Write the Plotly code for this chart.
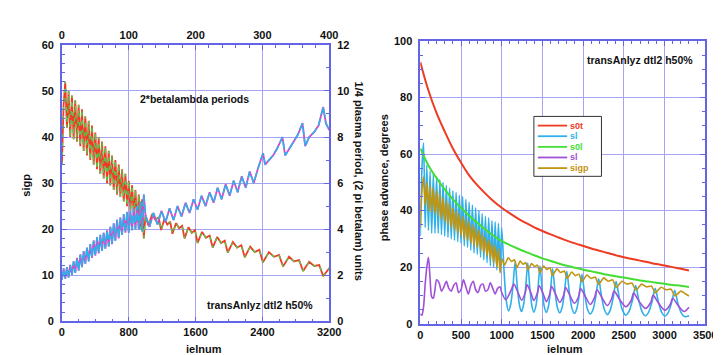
import plotly.graph_objects as go

W, H = 721, 355

# ---------------- LEFT PANEL DATA ----------------
# sigp vs ielnum (left axis, degrees)
sigp_ielnum = list(range(0, 1001, 20)) + [
    1035, 1081, 1119, 1157, 1187, 1228, 1262, 1296, 1323, 1367, 1403, 1439,
    1468, 1515, 1554, 1593, 1624, 1678, 1724, 1769, 1805, 1859, 1904, 1949,
    1985, 2046, 2097, 2148, 2189, 2254, 2308, 2363, 2406, 2478, 2539, 2599,
    2647, 2719, 2779, 2839, 2887, 2959, 3020, 3080, 3128, 3200, 3260, 3300]
sigp_vals = [
    34, 47, 52, 42, 50, 40, 49, 39.5, 48, 39, 47, 38, 46, 37, 44.5, 36, 43.5, 35,
    42.5, 34, 41, 33, 40, 32, 39, 31, 38, 30, 37, 29.5, 36, 28.5, 35, 27.5, 34, 27,
    33, 26, 32, 25, 30.5, 24, 29.5, 23, 28.5, 21.5, 27.5, 20, 26.5, 18, 23,
    20.8, 23.3, 22.0, 22.6, 19.8, 22.2, 21.0, 21.6, 19.0, 21.3, 20.2, 20.7,
    18.0, 20.4, 19.2, 19.8, 17.0, 19.4, 18.1, 18.6, 16.0, 18.3, 17.0, 17.5,
    14.9, 17.2, 16.0, 16.5, 13.9, 16.2, 15.0, 15.5, 12.8, 15.0, 14.0, 14.4,
    11.9, 14.0, 13.0, 13.3, 10.9, 12.9, 12.0, 12.2, 9.8, 11.5, 10.5, 9.8]

# 1/4 plasma period vs 2*betalambda periods (right axis / top axis)
qp_periods = [p / 2 for p in range(0, 246, 5)] + [
    125, 131, 137, 143, 149, 155, 161, 167, 173, 179, 185, 191, 197, 203, 209,
    215, 221, 227, 233, 239, 245, 251, 257, 263, 269, 275, 281, 287, 293, 301,
    304, 310, 316, 322, 330, 334, 340, 347, 353, 360, 364, 370, 377, 384, 391,
    395, 400]
qp_vals = [
    1.8, 2.3, 1.85, 2.35, 1.9, 2.45, 2.0, 2.6, 2.1, 2.75, 2.2, 2.9, 2.35, 3.05,
    2.5, 3.2, 2.6, 3.35, 2.75, 3.5, 2.85, 3.65, 2.95, 3.75, 3.05, 3.85, 3.15, 3.95,
    3.25, 4.1, 3.35, 4.25, 3.5, 4.4, 3.6, 4.5, 3.75, 4.65, 3.85, 4.75, 3.85, 4.8,
    3.95, 4.9, 4.0, 5.0, 4.0, 5.2, 3.9, 5.5,
    4.6, 4.1, 4.7, 4.2, 4.8, 4.3, 4.9, 4.4, 5.0, 4.55, 5.15, 4.7, 5.3, 4.85, 5.45,
    5.0, 5.6, 5.15, 5.8, 5.3, 5.95, 5.45, 6.1, 5.6, 6.3, 5.8, 6.5, 6.0, 6.6, 7.3,
    6.8, 7.0, 7.2, 7.5, 8.0, 7.2, 7.5, 7.8, 8.1, 8.6, 7.6, 8.0, 8.2, 8.5, 9.3,
    8.6, 8.3]

# ---------------- RIGHT PANEL DATA ----------------
smooth_ielnum = list(range(0, 3301, 100))
s0t_vals = [92.5, 82.5, 74.5, 68, 62, 57, 52.5, 49, 46, 43.3, 41, 39, 37.2, 35.6,
            34.1, 32.8, 31.6, 30.5, 29.4, 28.4, 27.5, 26.6, 25.8, 25.0, 24.2,
            23.5, 22.9, 22.3, 21.7, 21.1, 20.6, 20.0, 19.4, 18.8]
s0l_vals = [62, 56, 51.5, 47.5, 44, 41, 38.2, 35.7, 33.3, 31.1, 29.2, 27.8, 26.5,
            25.3, 24.2, 23.1, 22.2, 21.3, 20.5, 19.8, 19.1, 18.5, 17.9, 17.3,
            16.8, 16.3, 15.8, 15.3, 14.9, 14.5, 14.1, 13.7, 13.4, 13.0]

sl_ielnum = list(range(0, 981, 20)) + [
    1000, 1028, 1055, 1083, 1110, 1138, 1165, 1191, 1217, 1243, 1268, 1294,
    1320, 1345, 1370, 1395, 1420, 1445, 1470, 1496, 1522, 1548, 1573, 1599,
    1625, 1654, 1683, 1713, 1742, 1771, 1800, 1831, 1862, 1893, 1923, 1954,
    1985, 2019, 2053, 2088, 2122, 2156, 2190, 2226, 2262, 2298, 2333, 2369,
    2405, 2445, 2485, 2525, 2565, 2605, 2645, 2685, 2725, 2765, 2805, 2845,
    2885, 2925, 2965, 3005, 3045, 3085, 3125, 3165, 3205, 3245, 3285, 3300]
sl_vals = [
    31, 55, 64, 34, 56, 33, 54, 32, 53, 32, 52, 32, 51, 31.5, 50, 31, 49, 30.5,
    48, 30, 47, 29.5, 46.5, 29, 45.5, 28.5, 45, 27.5, 44, 27, 43, 26, 42, 25, 41,
    24.5, 40, 23.5, 39, 22.5, 38, 21.5, 37.5, 20.5, 36.5, 20, 36, 19, 35.5, 18.5,
    34, 19, 8.3, 4.5, 6.8, 13.2, 22, 13.2, 6.7, 4.3, 6.6, 12.9,
    21.5, 12.8, 6.4, 4.1, 6.3, 12.3, 20.5, 12.2, 6.1, 4.0, 6.0, 11.8,
    19.5, 11.6, 5.8, 3.8, 5.7, 11.2, 18.5, 11.0, 5.5, 3.6, 5.4, 10.6,
    17.5, 10.4, 5.2, 3.4, 5.0, 9.7, 16, 9.6, 4.9, 3.2, 4.8, 9.1,
    15, 9.0, 4.6, 3.0, 4.4, 8.2, 13.5, 8.1, 4.2, 2.8, 4.1, 7.6,
    12.5, 7.6, 4.0, 2.7, 3.9, 7.2, 11.8, 7.1, 3.8, 2.5, 2.6, 2.8]

sl2_ielnum = list(range(0, 201, 20)) + list(range(230, 981, 30)) + [
    1000, 1050, 1110, 1150, 1200, 1245, 1290, 1310, 1360, 1395, 1440, 1460,
    1510, 1548, 1590, 1612, 1665, 1713, 1760, 1785, 1840, 1893, 1945, 1968,
    2030, 2088, 2140, 2170, 2235, 2298, 2350, 2380, 2450, 2525, 2590, 2620,
    2690, 2765, 2830, 2860, 2930, 3005, 3070, 3100, 3170, 3240, 3300]
sl2_vals = [
    3.5, 3.0, 6, 14, 20, 23.5, 16, 9.5, 9, 12, 15.5,
    14.5, 11.5, 13, 15, 12.5, 11.5, 13.5, 14.5, 11, 12, 15.5, 13, 10.5, 13.5, 15,
    12, 11, 13.5, 14, 11.5, 12, 14.5, 12.5, 10.5, 12.5, 13,
    11, 8.5, 11.5, 14, 11, 8.3, 11, 13.8, 10.8, 8.2, 11, 13.5, 10.5, 7.8, 10.5,
    13.2, 10.2, 7.5, 10, 12.8, 9.8, 7.2, 9.6, 12.4, 9.5, 6.8, 9.2, 12, 9, 6.4,
    8.8, 11.5, 8.5, 6.0, 8.2, 10.8, 7.8, 5.4, 7.5, 10, 7.1, 4.8, 6.8, 9, 6.3,
    4.3, 5.8]

legend_names = ["s0t", "sl", "s0l", "sl", "sigp"]

# ---------------- STYLE ----------------
RED = "#ee3b22"
GREEN = "#44dd33"
BLUE = "#2fb0ea"
PURPLE = "#a050d8"
GOLD = "#bf9512"
MAGENTA = "#d848c8"
AXC = "#6464e6"
GRIDC = "#a4a4f2"
FONT = "Liberation Sans"

def px(x):
    return x / W

def py(y):
    return 1 - y / H

fig = go.Figure()

# left panel
fig.add_trace(go.Scatter(x=sigp_ielnum, y=sigp_vals, mode="lines", name="sigp",
                         line=dict(color=RED, width=1.8), xaxis="x", yaxis="y",
                         showlegend=False))
fig.add_trace(go.Scatter(x=sigp_ielnum, y=sigp_vals, mode="lines", name="sigp",
                         line=dict(color="#55c850", width=1.3, dash="4px,5px"),
                         xaxis="x", yaxis="y", showlegend=False))
fig.add_trace(go.Scatter(x=qp_periods, y=qp_vals, mode="lines", name="1/4 plasma period",
                         line=dict(color=MAGENTA, width=1.8), xaxis="x3", yaxis="y2",
                         showlegend=False))
fig.add_trace(go.Scatter(x=qp_periods, y=qp_vals, mode="lines", name="1/4 plasma period",
                         line=dict(color=BLUE, width=1.6, dash="8px,3px"),
                         xaxis="x3", yaxis="y2", showlegend=False))

# right panel
fig.add_trace(go.Scatter(x=smooth_ielnum, y=s0t_vals, mode="lines", name=legend_names[0],
                         line=dict(color=RED, width=2, shape="spline"),
                         xaxis="x2", yaxis="y3", showlegend=False))
fig.add_trace(go.Scatter(x=sl_ielnum, y=sl_vals, mode="lines", name=legend_names[1],
                         line=dict(color=BLUE, width=1.6, shape="spline", smoothing=0.7),
                         xaxis="x2", yaxis="y3", showlegend=False))
fig.add_trace(go.Scatter(x=smooth_ielnum, y=s0l_vals, mode="lines", name=legend_names[2],
                         line=dict(color=GREEN, width=2, shape="spline"),
                         xaxis="x2", yaxis="y3", showlegend=False))
fig.add_trace(go.Scatter(x=sl2_ielnum, y=sl2_vals, mode="lines", name=legend_names[3],
                         line=dict(color=PURPLE, width=1.6, shape="spline", smoothing=0.8),
                         xaxis="x2", yaxis="y3", showlegend=False))
fig.add_trace(go.Scatter(x=sigp_ielnum, y=sigp_vals, mode="lines", name=legend_names[4],
                         line=dict(color=GOLD, width=1.6, shape="spline", smoothing=0.6),
                         xaxis="x2", yaxis="y3", showlegend=False))

tickfont = dict(family=FONT, size=11, color="#111111", weight="bold")

def ax(**kw):
    base = dict(showline=True, linecolor=AXC, linewidth=1.5, ticks="inside",
                ticklen=5, tickcolor=AXC, tickwidth=1, tickfont=tickfont,
                zeroline=False, gridcolor=GRIDC, gridwidth=1)
    base.update(kw)
    return base

L_DOM_X = [px(52), px(325)]
L_DOM_Y = [py(318), py(32)]
R_DOM_X = [px(418), px(709)]
R_DOM_Y = [py(320.5), py(28)]

fig.update_layout(
    width=W, height=H, margin=dict(l=0, r=0, t=0, b=0),
    paper_bgcolor="white", plot_bgcolor="white", showlegend=False,
    font=dict(family=FONT, size=11, color="#111111", weight="bold"),
    xaxis=ax(domain=L_DOM_X, range=[0, 3200], dtick=800, anchor="y",
             showgrid=True, minor=dict(dtick=200, ticks="inside", ticklen=3, tickcolor=AXC)),
    xaxis3=ax(overlaying="x", side="top", range=[0, 400], dtick=100, anchor="y",
              showgrid=False, minor=dict(dtick=20, ticks="inside", ticklen=3, tickcolor=AXC)),
    yaxis=ax(domain=L_DOM_Y, range=[0, 60], dtick=10, anchor="x", showgrid=True,
             ticklabelstandoff=4,
             minor=dict(dtick=2, ticks="inside", ticklen=3, tickcolor=AXC)),
    yaxis2=ax(overlaying="y", side="right", range=[0, 12], dtick=2, anchor="x",
              showgrid=False, ticklabelstandoff=4,
              minor=dict(dtick=1, ticks="inside", ticklen=3, tickcolor=AXC)),
    xaxis2=ax(domain=R_DOM_X, range=[0, 3500], dtick=500, anchor="y3", mirror="allticks",
              showgrid=True, minor=dict(dtick=100, ticks="inside", ticklen=3, tickcolor=AXC)),
    yaxis3=ax(domain=R_DOM_Y, range=[0, 100], dtick=20, anchor="x2", mirror="allticks",
              showgrid=True, ticklabelstandoff=4,
              minor=dict(dtick=5, ticks="inside", ticklen=3, tickcolor=AXC)),
)

def txt(x, y, s, angle=0, size=11, color="#111111", xanchor="center"):
    fig.add_annotation(x=px(x), y=py(y), xref="paper", yref="paper", text=s,
                       showarrow=False, textangle=angle, xanchor=xanchor, yanchor="middle",
                       borderpad=0,
                       font=dict(family=FONT, size=size, color=color, weight="bold"))

# axis titles
txt(15, 177, "sigp", angle=-90)
txt(197, 347, "ielnum")
txt(355, 173, "1/4 plasma period, (2 pi betalam) units", angle=90)
txt(381, 170, "phase advance, degrees", angle=-90)
txt(566, 347, "ielnum")

# in-plot labels
txt(187.5, 88, "2*betalambda periods", size=10.5)
txt(254, 301, "transAnlyz dtl2 h50%", size=10.5)
txt(642.5, 48, "transAnlyz dtl2 h50%", size=10.5)

# legend box (drawn by hand to keep the compact original look)
fig.add_shape(type="rect", xref="paper", yref="paper",
              x0=px(534), x1=px(603), y0=py(168), y1=py(106),
              line=dict(color="#333333", width=1), fillcolor="white", layer="above")
leg_colors = [RED, BLUE, GREEN, PURPLE, GOLD]
leg_rows = [115.5, 126.5, 137.5, 148.5, 159.5]
for name, c, r in zip(legend_names, leg_colors, leg_rows):
    fig.add_shape(type="line", xref="paper", yref="paper",
                  x0=px(538), x1=px(568), y0=py(r), y1=py(r),
                  line=dict(color=c, width=1.8), layer="above")
    txt(570, r, name, size=9, color=c, xanchor="left")

fig.write_html("out.html")
